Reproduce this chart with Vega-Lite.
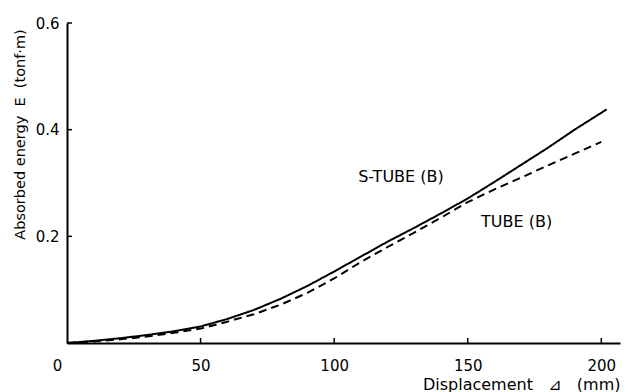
{
  "$schema": "https://vega.github.io/schema/vega-lite/v6.json",
  "autosize": "none",
  "padding": {"left": 67, "top": 23, "right": 10, "bottom": 49},
  "width": 553,
  "height": 320,
  "background": "white",
  "config": {
    "view": {"stroke": null},
    "font": "DejaVu Sans"
  },
  "datasets": {
    "curves": [
      {"d": 0, "E": 0, "series": "S-TUBE (B)"},
      {"d": 10, "E": 0.004, "series": "S-TUBE (B)"},
      {"d": 20, "E": 0.009, "series": "S-TUBE (B)"},
      {"d": 30, "E": 0.015, "series": "S-TUBE (B)"},
      {"d": 40, "E": 0.022, "series": "S-TUBE (B)"},
      {"d": 50, "E": 0.031, "series": "S-TUBE (B)"},
      {"d": 60, "E": 0.045, "series": "S-TUBE (B)"},
      {"d": 70, "E": 0.062, "series": "S-TUBE (B)"},
      {"d": 80, "E": 0.083, "series": "S-TUBE (B)"},
      {"d": 90, "E": 0.107, "series": "S-TUBE (B)"},
      {"d": 100, "E": 0.134, "series": "S-TUBE (B)"},
      {"d": 110, "E": 0.162, "series": "S-TUBE (B)"},
      {"d": 120, "E": 0.19, "series": "S-TUBE (B)"},
      {"d": 130, "E": 0.216, "series": "S-TUBE (B)"},
      {"d": 140, "E": 0.243, "series": "S-TUBE (B)"},
      {"d": 150, "E": 0.271, "series": "S-TUBE (B)"},
      {"d": 160, "E": 0.302, "series": "S-TUBE (B)"},
      {"d": 170, "E": 0.334, "series": "S-TUBE (B)"},
      {"d": 180, "E": 0.366, "series": "S-TUBE (B)"},
      {"d": 190, "E": 0.4, "series": "S-TUBE (B)"},
      {"d": 202, "E": 0.438, "series": "S-TUBE (B)"},
      {"d": 0, "E": 0, "series": "TUBE (B)"},
      {"d": 10, "E": 0.003, "series": "TUBE (B)"},
      {"d": 20, "E": 0.007, "series": "TUBE (B)"},
      {"d": 30, "E": 0.012, "series": "TUBE (B)"},
      {"d": 40, "E": 0.019, "series": "TUBE (B)"},
      {"d": 50, "E": 0.027, "series": "TUBE (B)"},
      {"d": 60, "E": 0.04, "series": "TUBE (B)"},
      {"d": 70, "E": 0.054, "series": "TUBE (B)"},
      {"d": 80, "E": 0.072, "series": "TUBE (B)"},
      {"d": 90, "E": 0.094, "series": "TUBE (B)"},
      {"d": 100, "E": 0.121, "series": "TUBE (B)"},
      {"d": 110, "E": 0.152, "series": "TUBE (B)"},
      {"d": 120, "E": 0.18, "series": "TUBE (B)"},
      {"d": 130, "E": 0.207, "series": "TUBE (B)"},
      {"d": 140, "E": 0.235, "series": "TUBE (B)"},
      {"d": 150, "E": 0.264, "series": "TUBE (B)"},
      {"d": 160, "E": 0.288, "series": "TUBE (B)"},
      {"d": 170, "E": 0.31, "series": "TUBE (B)"},
      {"d": 180, "E": 0.333, "series": "TUBE (B)"},
      {"d": 190, "E": 0.355, "series": "TUBE (B)"},
      {"d": 200, "E": 0.377, "series": "TUBE (B)"}
    ],
    "labels": [
      {"d": 125, "E": 0.311, "text": "S-TUBE (B)"},
      {"d": 168.3, "E": 0.227, "text": "TUBE (B)"}
    ],
    "xticks": [{"d": 50, "E": 0}, {"d": 100, "E": 0}, {"d": 150, "E": 0}, {"d": 200, "E": 0}],
    "yticks": [{"d": 0, "E": 0.2}, {"d": 0, "E": 0.4}, {"d": 0, "E": 0.6}]
  },
  "layer": [
    {
      "data": {"name": "curves"},
      "mark": {"type": "line", "color": "black", "strokeWidth": 2},
      "encoding": {
        "x": {
          "field": "d", "type": "quantitative",
          "scale": {"domain": [0, 207], "nice": false, "zero": false},
          "axis": {
            "orient": "bottom",
            "title": "Displacement\u00a0\u00a0\u00a0⊿\u00a0\u00a0\u00a0(mm)",
            "values": [0, 50, 100, 150, 200],
            "grid": false,
            "ticks": false,
            "domainColor": "black", "domainWidth": 2,
            "labelColor": "black", "labelFontSize": 15, "labelPadding": 15,
            "labelOffset": {"condition": {"test": "datum.value === 0", "value": -10}, "value": 0},
            "labelFlush": false,
            "titleColor": "black", "titleFontSize": 16, "titleFontWeight": "normal",
            "titleAnchor": "end", "titleAlign": "right", "titleBaseline": "alphabetic", "titleY": 46
          }
        },
        "y": {
          "field": "E", "type": "quantitative",
          "scale": {"domain": [0, 0.6], "nice": false},
          "axis": {
            "orient": "left",
            "title": "Absorbed energy\u00a0\u00a0E\u00a0\u00a0(tonf·m)",
            "values": [0.2, 0.4, 0.6],
            "format": ".1f",
            "grid": false,
            "ticks": false,
            "domainColor": "black", "domainWidth": 2,
            "labelColor": "black", "labelFontSize": 15, "labelPadding": 8,
            "titleColor": "black", "titleFontSize": 14.5, "titleFontWeight": "normal",
            "titleAngle": -90, "titleX": -40, "titleY": 111, "titleAlign": "center", "titleBaseline": "bottom"
          }
        },
        "strokeDash": {
          "field": "series", "type": "nominal",
          "scale": {"domain": ["S-TUBE (B)", "TUBE (B)"], "range": [[1, 0], [8, 5]]},
          "legend": null
        }
      }
    },
    {
      "data": {"name": "xticks"},
      "mark": {"type": "tick", "orient": "vertical", "color": "black", "size": 5, "thickness": 1.5, "yOffset": -2.5, "opacity": 1},
      "encoding": {
        "x": {"field": "d", "type": "quantitative"},
        "y": {"field": "E", "type": "quantitative"}
      }
    },
    {
      "data": {"name": "yticks"},
      "mark": {"type": "tick", "orient": "horizontal", "color": "black", "size": 5, "thickness": 1.5, "xOffset": 2.5, "opacity": 1},
      "encoding": {
        "x": {"field": "d", "type": "quantitative"},
        "y": {"field": "E", "type": "quantitative"}
      }
    },
    {
      "data": {"name": "labels"},
      "mark": {"type": "text", "color": "black", "fontSize": 16, "align": "center", "baseline": "middle"},
      "encoding": {
        "x": {"field": "d", "type": "quantitative"},
        "y": {"field": "E", "type": "quantitative"},
        "text": {"field": "text"}
      }
    }
  ]
}
